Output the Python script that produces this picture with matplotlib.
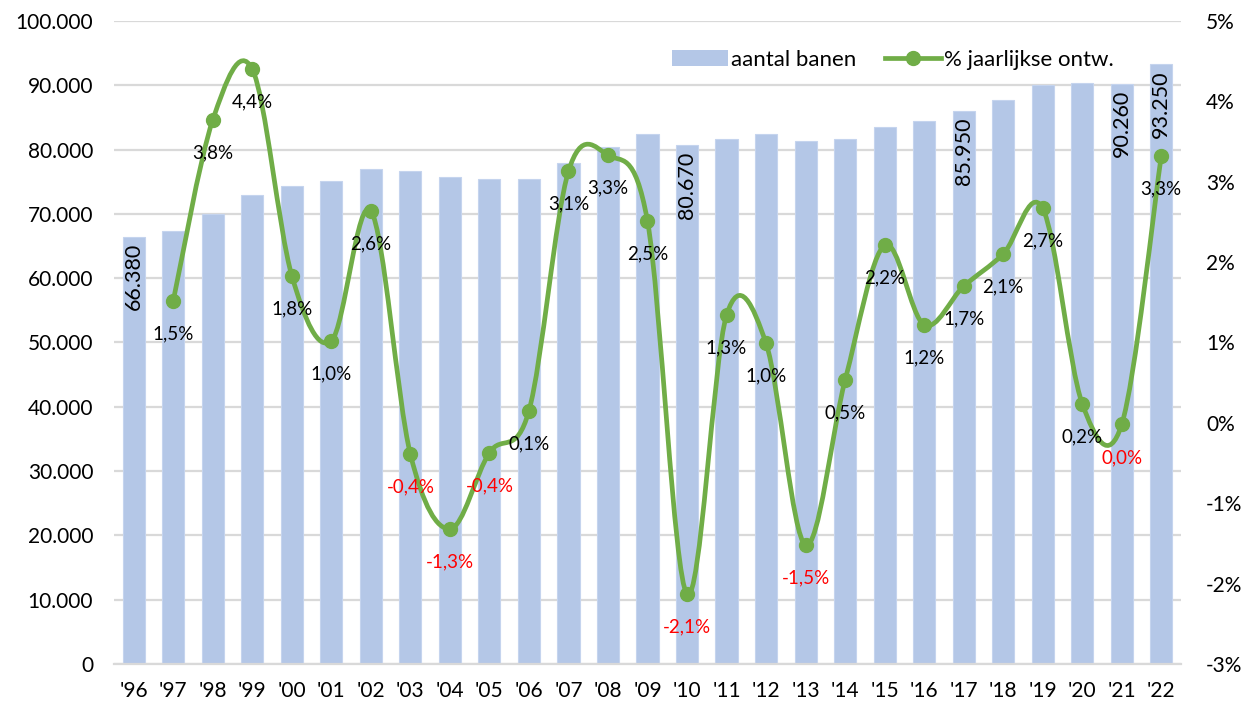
import numpy as np
import matplotlib
matplotlib.use('Agg')
import matplotlib.pyplot as plt
from matplotlib.path import Path
from matplotlib.patches import PathPatch, Patch
from matplotlib.lines import Line2D
from matplotlib.ticker import FuncFormatter

plt.rcParams['font.family'] = ['Lato', 'DejaVu Sans']

# data
years = ["'96", "'97", "'98", "'99", "'00", "'01", "'02", "'03", "'04", "'05", "'06",
         "'07", "'08", "'09", "'10", "'11", "'12", "'13", "'14", "'15", "'16", "'17",
         "'18", "'19", "'20", "'21", "'22"]
banen = [66380, 67380, 69940, 73000, 74300, 75100, 77000, 76700, 75700, 75400, 75500,
         77900, 80400, 82400, 80670, 81700, 82500, 81300, 81700, 83500, 84500, 85950,
         87750, 90100, 90300, 90260, 93250]
# % jaarlijkse ontwikkeling, starts at '97
groei = [1.52, 3.77, 4.40, 1.83, 1.02, 2.64, -0.39, -1.32, -0.37, 0.15, 3.13, 3.33,
         2.51, -2.13, 1.34, 0.99, -1.52, 0.53, 2.21, 1.22, 1.70, 2.10, 2.67, 0.24,
         -0.02, 3.32]
bar_labels = ["'96", "'10", "'17", "'21", "'22"]

BLUE = '#B4C7E7'
GREEN = '#70AD47'
GRID = '#D9D9D9'

fig = plt.figure(figsize=(12.49, 7.07), dpi=100)
ax = fig.add_axes([114 / 1249, 43 / 707, 1067 / 1249, 643 / 707])
ax2 = ax.twinx()

x = np.arange(len(years))
ax.bar(x, banen, width=0.56, color=BLUE, edgecolor='#C5D4EE', linewidth=0.8, zorder=2)
ax.set_xlim(-0.5, len(years) - 0.5)
ax.set_ylim(0, 100000)
ax.set_yticks(np.arange(0, 100001, 10000))
ax.yaxis.set_major_formatter(FuncFormatter(lambda v, p: f'{int(v):,}'.replace(',', '.')))
ax.set_xticks(x)
ax.set_xticklabels(years)
ax.grid(axis='y', color=GRID, linewidth=1.6, zorder=0)
ax.set_axisbelow(True)
for s in ['top', 'left', 'right']:
    ax.spines[s].set_visible(False)
ax.spines['bottom'].set_color(GRID)
ax.spines['bottom'].set_linewidth(1.6)
ax.tick_params(axis='both', length=0, labelsize=15, colors='black')
ax.tick_params(axis='y', pad=15)
ax.tick_params(axis='x', pad=12)

# value labels on some bars
for i, yr in enumerate(years):
    if yr in bar_labels:
        ax.annotate(f'{banen[i]:,}'.replace(',', '.'), (i, banen[i]), xytext=(0, -6),
                    textcoords='offset pixels', rotation=90, ha='center', va='top',
                    fontsize=15.5, zorder=3)

# smoothed line (bezier like Excel)
xs = x[1:]
pts = np.column_stack([xs, groei])
verts = [pts[0]]
codes = [Path.MOVETO]
n = len(pts)
for i in range(n - 1):
    p0 = pts[max(i - 1, 0)]
    p1 = pts[i]
    p2 = pts[i + 1]
    p3 = pts[min(i + 2, n - 1)]
    c1 = p1 + (p2 - p0) / 6
    c2 = p2 - (p3 - p1) / 6
    verts += [c1, c2, p2]
    codes += [Path.CURVE4] * 3
ax2.add_patch(PathPatch(Path(verts, codes), facecolor='none', edgecolor=GREEN,
                        linewidth=3.4, capstyle='round', joinstyle='round', zorder=3))
ax2.plot(xs, groei, 'o', color=GREEN, markersize=10, zorder=4)

for xi, v in zip(xs, groei):
    s = f'{v:.1f}'
    if s == '-0.0':
        s = '0.0'
    ax2.annotate(s.replace('.', ',') + '%', (xi, v), xytext=(0, -33),
                 textcoords='offset pixels', ha='center', va='center', fontsize=13.5,
                 color='#FF0000' if v < 0 else 'black', zorder=5)

ax2.set_ylim(-3, 5)
ax2.set_yticks(np.arange(-3, 6, 1))
ax2.yaxis.set_major_formatter(FuncFormatter(lambda v, p: f'{int(round(v))}%'))
for s in ['top', 'left', 'right', 'bottom']:
    ax2.spines[s].set_visible(False)
ax2.tick_params(axis='y', length=0, labelsize=15, pad=18, colors='black')

handles = [Patch(facecolor=BLUE, edgecolor='none'),
           Line2D([], [], color=GREEN, linewidth=3.4, marker='o', markersize=10)]
ax2.legend(handles, ['aantal banen', '% jaarlijkse ontw.'], ncol=2, frameon=False,
           loc='center right', bbox_to_anchor=(0.956, 0.94), fontsize=16,
           handlelength=2.5, handleheight=0.7, columnspacing=1.3, handletextpad=0.15)

fig.savefig('out.png', dpi=100)
